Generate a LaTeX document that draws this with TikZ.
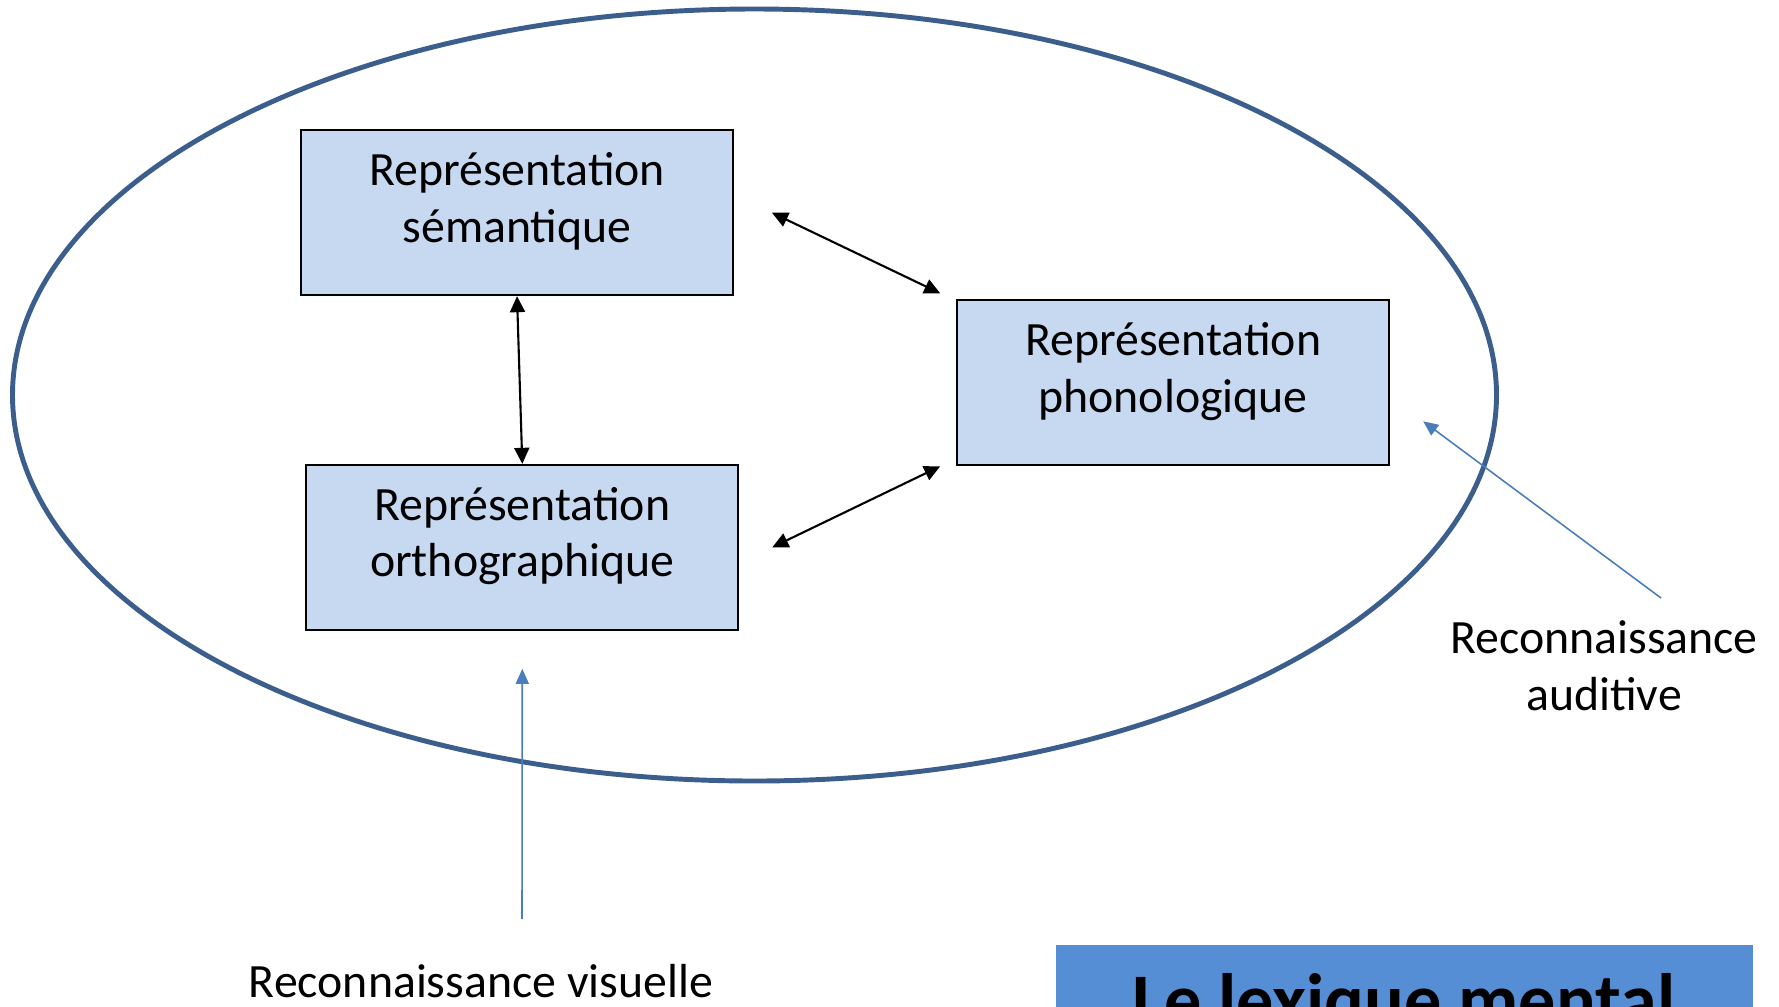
\documentclass[tikz,border=0pt]{standalone}
\usepackage{fontspec}
\setmainfont{Carlito}
\usetikzlibrary{arrows.meta}
\definecolor{ringblue}{RGB}{59,94,140}
\definecolor{boxblue}{RGB}{198,217,241}
\definecolor{titleblue}{RGB}{85,142,213}
\definecolor{inblue}{RGB}{74,126,187}
\begin{document}
\begin{tikzpicture}[x=0.1mm,y=-0.1mm,
    repr/.style={draw=black,line width=0.55pt,fill=boxblue,align=center,
      minimum width=43.2mm,minimum height=16.5mm,inner sep=0pt,
      text height=6.86mm,text depth=1mm,
      font=\fontsize{13.6pt}{16.1pt}\selectfont},
    lbl/.style={align=center,inner sep=0pt,font=\fontsize{13.6pt}{16.1pt}\selectfont},
    both/.style={{Triangle[length=1.6mm,width=1.5mm]}-{Triangle[length=1.6mm,width=1.5mm]},line width=0.6pt},
    into/.style={-{Triangle[length=1.5mm,width=1.3mm]},draw=inblue,line width=0.45pt}]
  \useasboundingbox (0,0) rectangle (1779,1006);
  \draw[ringblue,line width=1.4pt] (754.5,395) ellipse [x radius=742,y radius=386];
  \draw
    (517,212.7) node[repr] (sem){Représentation\\sémantique}
    (522.3,547.3) node[repr] (orth){Représentation\\orthographique}
    (1173.2,382.8) node[repr] (phon){Représentation\\phonologique};
  \begin{scope}[both]
    \draw (sem.south) to (orth.north);
    \draw ([xshift=3.8mm]sem.east) to ([xshift=-1.6mm,yshift=0.6mm]phon.north west);
    \draw ([xshift=3.3mm]orth.east) to ([xshift=-1.6mm]phon.south west);
  \end{scope}
  \coordinate (visin) at (522,919);
  \coordinate (audin) at (1661,598);
  \node[lbl,anchor=base] (vis) at (481,997) {Reconnaissance visuelle};
  \node[lbl,anchor=base] (aud) at (1604,710) {Reconnaissance\\auditive};
  \begin{scope}[into]
    \draw (visin) to ([yshift=-3.8mm]orth.south);
    \draw (audin) to ([xshift=3.3mm,yshift=4.5mm]phon.south east);
  \end{scope}
  \begin{scope}
    \clip (0,0) rectangle (1779,1006);
    \fill[titleblue] (1056,945) rectangle (1753,1100);
    \node[anchor=base,inner sep=0pt,font=\fontsize{21.1pt}{25pt}\selectfont\bfseries] (title)
      at (1404,1025) {Le lexique mental};
  \end{scope}
\end{tikzpicture}
\end{document}
